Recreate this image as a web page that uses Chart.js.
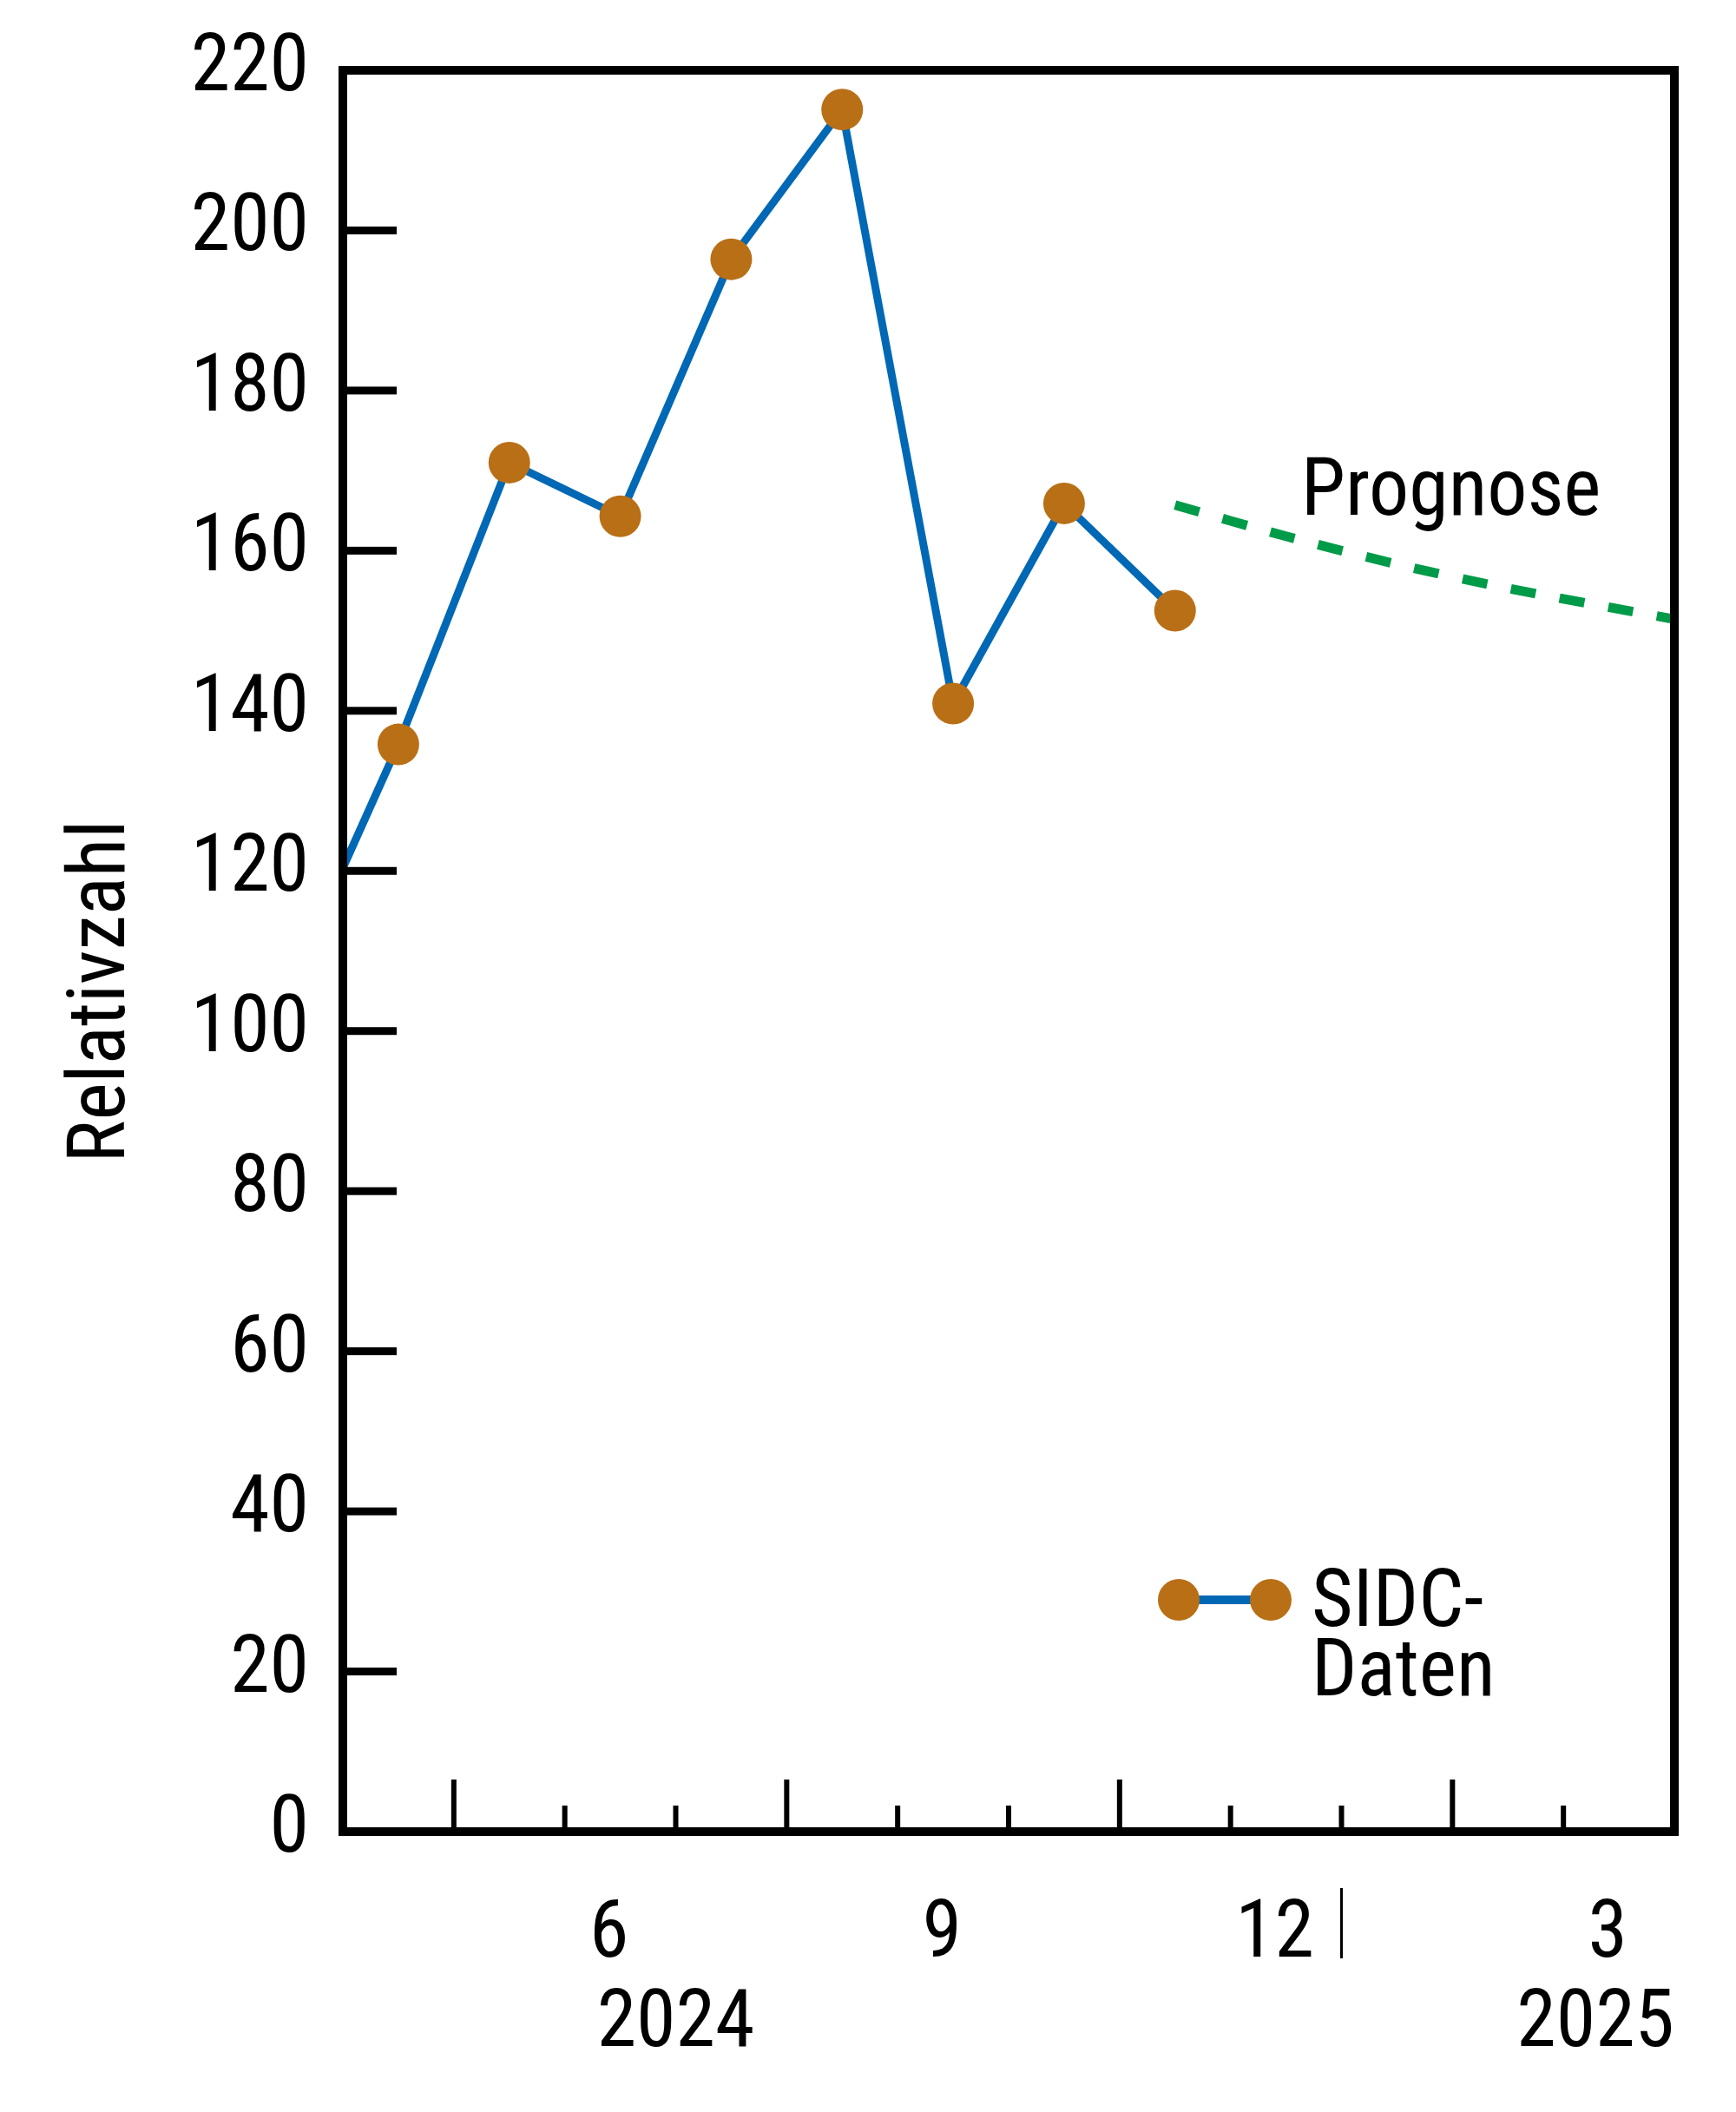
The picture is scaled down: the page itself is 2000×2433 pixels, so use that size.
<!DOCTYPE html>
<html lang="de">
<head>
<meta charset="utf-8">
<title>Sonnenflecken-Relativzahl</title>
<script src="https://cdn.jsdelivr.net/npm/chart.js@4.4.1/dist/chart.umd.min.js"></script>
<style>
  html, body { margin: 0; padding: 0; background: #fff; }
  canvas { display: block; }
</style>
</head>
<body>
<canvas id="chart" width="2000" height="2433"></canvas>
<script>
// Monatsmittel der Relativzahl (SIDC) und Prognose
const sidcMonths = ['2024-03', '2024-04', '2024-05', '2024-06', '2024-07', '2024-08', '2024-09', '2024-10', '2024-11'];
const sidcValues = [104.9, 135.8, 171.0, 164.3, 196.4, 215.1, 140.9, 165.9, 152.5];

const forecastMonths = ['2024-11', '2024-12', '2025-01', '2025-02', '2025-03', '2025-04'];
const forecastValues = [165.7, 161.8, 158.3, 155.3, 152.7, 150.2];

const monthTickMonths = ['2024-06', '2024-09', '2024-12', '2025-03'];
const monthTickLabels = ['6', '9', '12', '3'];
const yearLabels = ['2024', '2025'];
const yTickValues = [0, 20, 40, 60, 80, 100, 120, 140, 160, 180, 200, 220];

const FONT = "'Roboto Condensed', 'Liberation Sans Narrow', 'Arial Narrow', 'DejaVu Sans Condensed', sans-serif";
const BLUE = 'rgb(0, 104, 180)';
const BROWN = 'rgb(185, 111, 22)';
const GREEN = 'rgb(0, 155, 72)';

// x-Achse: Monate ab April 2024 (0 = 1. April 2024)
function monthIndex(ym) {
    const [y, m] = ym.split('-').map(Number);
    return (y - 2024) * 12 + (m - 4);
}
function midMonth(ym) {
    return monthIndex(ym) + 0.5;
}

Chart.defaults.font.family = FONT;
Chart.defaults.font.size = 92;
Chart.defaults.color = '#000';

// Rahmen, Innen-Ticks, Beschriftungen und Legende
const decorations = {
    id: 'decorations',
    afterDraw(chart) {
        const ctx = chart.ctx;
        const { left, right, top, bottom } = chart.chartArea;
        const x = chart.scales.x;
        const y = chart.scales.y;
        ctx.save();
        ctx.fillStyle = '#000';
        ctx.strokeStyle = '#000';

        // y ticks nach innen
        yTickValues.forEach(v => {
            if (v === 0 || v === 220) return;
            const py = y.getPixelForValue(v);
            ctx.fillRect(left, py - 4.5, 62, 9);
        });

        // Monatsgrenzen, jede dritte länger
        for (let m = 1; m < 12; m++) {
            const px = x.getPixelForValue(m);
            const len = (m % 3 === 1) ? 60 : 30;
            ctx.fillRect(px - 3, bottom - len, 6, len);
        }

        // Rahmen
        ctx.lineWidth = 10;
        ctx.strokeRect(left, top, right - left, bottom - top);

        // Jahreswechsel
        const px = x.getPixelForValue(monthIndex('2025-01'));
        ctx.lineWidth = 3;
        ctx.beginPath();
        ctx.moveTo(px, 2175);
        ctx.lineTo(px, 2256);
        ctx.stroke();

        // Jahre
        ctx.font = '92px ' + FONT;
        ctx.textBaseline = 'alphabetic';
        ctx.textAlign = 'center';
        ctx.fillText(yearLabels[0], x.getPixelForValue(monthIndex('2024-07')), 2357);
        ctx.textAlign = 'right';
        ctx.fillText(yearLabels[1], right, 2357);

        // Prognose
        ctx.textAlign = 'left';
        ctx.fillText('Prognose', 1499, 593);

        // Legende
        ctx.strokeStyle = BLUE;
        ctx.lineWidth = 10;
        ctx.beginPath();
        ctx.moveTo(1358, 1843);
        ctx.lineTo(1464, 1843);
        ctx.stroke();
        ctx.fillStyle = BROWN;
        [1358, 1464].forEach(cx => {
            ctx.beginPath();
            ctx.arc(cx, 1843, 24, 0, Math.PI * 2);
            ctx.fill();
        });
        ctx.fillStyle = '#000';
        ctx.fillText('SIDC-', 1511, 1873);
        ctx.fillText('Daten', 1511, 1953);

        // y-Titel
        ctx.translate(143, 1142);
        ctx.rotate(-Math.PI / 2);
        ctx.textAlign = 'center';
        ctx.fillText('Relativzahl', 0, 0);
        ctx.restore();
    }
};

const ctx = document.getElementById('chart').getContext('2d');

new Chart(ctx, {
    type: 'line',
    data: {
        datasets: [{
            label: 'SIDC-Daten',
            data: sidcMonths.map((m, i) => ({ x: midMonth(m), y: sidcValues[i] })),
            borderColor: BLUE,
            borderWidth: 9,
            pointRadius: 24,
            pointBackgroundColor: BROWN,
            pointBorderWidth: 0,
            tension: 0,
            clip: 0
        }, {
            label: 'Prognose',
            data: forecastMonths.map((m, i) => ({ x: midMonth(m), y: forecastValues[i] })),
            borderColor: GREEN,
            borderWidth: 11,
            borderDash: [29, 28],
            pointRadius: 0,
            tension: 0.3,
            clip: 0
        }]
    },
    options: {
        responsive: false,
        animation: false,
        devicePixelRatio: 1,
        layout: {
            padding: { left: 0, right: 71, top: 81, bottom: 0 }
        },
        scales: {
            x: {
                type: 'linear',
                min: 0,
                max: 12,
                grid: { display: false },
                border: { display: false },
                afterBuildTicks: scale => {
                    scale.ticks = monthTickMonths.map(m => ({ value: midMonth(m) }));
                },
                afterFit: scale => {
                    scale.height = 323;
                    scale.paddingLeft = 0;
                    scale.paddingRight = 0;
                },
                ticks: {
                    padding: 58,
                    labelOffset: -13,
                    maxRotation: 0,
                    autoSkip: false,
                    callback: function(value) {
                        const i = monthTickMonths.findIndex(m => midMonth(m) === value);
                        return i >= 0 ? monthTickLabels[i] : '';
                    }
                }
            },
            y: {
                min: 0,
                max: 220,
                grid: { display: false },
                border: { display: false },
                afterBuildTicks: scale => {
                    scale.ticks = yTickValues.map(v => ({ value: v }));
                },
                afterFit: scale => {
                    scale.width = 395;
                    scale.paddingTop = 0;
                    scale.paddingBottom = 0;
                },
                ticks: {
                    padding: 31
                }
            }
        },
        plugins: {
            legend: { display: false },
            tooltip: { enabled: false }
        }
    },
    plugins: [decorations]
});
</script>
</body>
</html>
